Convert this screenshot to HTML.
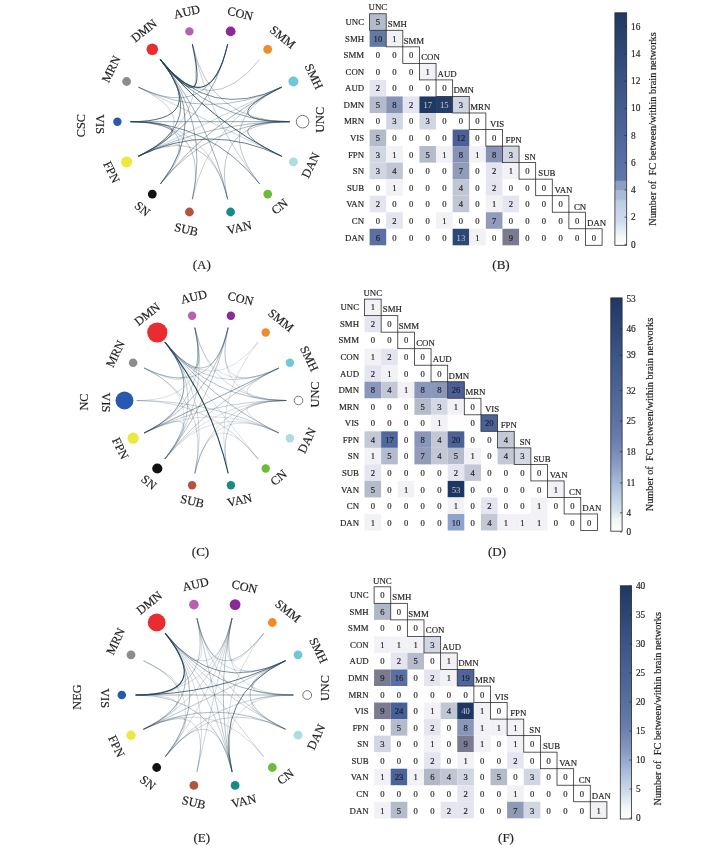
<!DOCTYPE html><html><head><meta charset="utf-8"><title>Figure</title><style>html,body{margin:0;padding:0;background:#fff}svg{display:block}text{font-family:"Liberation Serif",serif;stroke:#231f20;stroke-width:0.18px}</style></head><body>
<svg width="727" height="851" viewBox="0 0 727 851">
<rect width="727" height="851" fill="#fff"/>
<g fill="none" stroke="#28455c" stroke-linecap="round">
<path d="M138.7 156.1Q210.0 121.7 281.3 87.3" stroke-width="0.65" stroke-opacity="0.37"/>
<path d="M138.7 156.1Q210.0 121.7 192.4 44.5" stroke-width="0.65" stroke-opacity="0.37"/>
<path d="M138.7 156.1Q210.0 121.7 138.7 87.3" stroke-width="0.65" stroke-opacity="0.37"/>
<path d="M160.6 183.6Q210.0 121.7 138.7 156.1" stroke-width="0.65" stroke-opacity="0.37"/>
<path d="M192.4 198.9Q210.0 121.7 281.3 87.3" stroke-width="0.65" stroke-opacity="0.37"/>
<path d="M227.6 198.9Q210.0 121.7 130.8 121.7" stroke-width="0.65" stroke-opacity="0.37"/>
<path d="M259.4 183.6Q210.0 121.7 192.4 44.5" stroke-width="0.65" stroke-opacity="0.37"/>
<path d="M281.3 156.1Q210.0 121.7 138.7 87.3" stroke-width="0.65" stroke-opacity="0.37"/>
<path d="M192.4 44.5Q210.0 121.7 289.2 121.7" stroke-width="0.69" stroke-opacity="0.45"/>
<path d="M160.6 59.8Q210.0 121.7 259.4 59.8" stroke-width="0.69" stroke-opacity="0.45"/>
<path d="M160.6 183.6Q210.0 121.7 130.8 121.7" stroke-width="0.69" stroke-opacity="0.45"/>
<path d="M192.4 198.9Q210.0 121.7 130.8 121.7" stroke-width="0.69" stroke-opacity="0.45"/>
<path d="M227.6 198.9Q210.0 121.7 289.2 121.7" stroke-width="0.69" stroke-opacity="0.45"/>
<path d="M227.6 198.9Q210.0 121.7 138.7 156.1" stroke-width="0.69" stroke-opacity="0.45"/>
<path d="M259.4 183.6Q210.0 121.7 281.3 87.3" stroke-width="0.69" stroke-opacity="0.45"/>
<path d="M138.7 87.3Q210.0 121.7 281.3 87.3" stroke-width="0.72" stroke-opacity="0.51"/>
<path d="M138.7 87.3Q210.0 121.7 227.6 44.5" stroke-width="0.72" stroke-opacity="0.51"/>
<path d="M138.7 156.1Q210.0 121.7 289.2 121.7" stroke-width="0.72" stroke-opacity="0.51"/>
<path d="M160.6 183.6Q210.0 121.7 289.2 121.7" stroke-width="0.72" stroke-opacity="0.51"/>
<path d="M160.6 183.6Q210.0 121.7 281.3 87.3" stroke-width="0.76" stroke-opacity="0.57"/>
<path d="M192.4 198.9Q210.0 121.7 160.6 59.8" stroke-width="0.76" stroke-opacity="0.57"/>
<path d="M227.6 198.9Q210.0 121.7 160.6 59.8" stroke-width="0.76" stroke-opacity="0.57"/>
<path d="M160.6 59.8Q210.0 121.7 289.2 121.7" stroke-width="0.79" stroke-opacity="0.61"/>
<path d="M130.8 121.7Q210.0 121.7 289.2 121.7" stroke-width="0.79" stroke-opacity="0.61"/>
<path d="M138.7 156.1Q210.0 121.7 227.6 44.5" stroke-width="0.79" stroke-opacity="0.61"/>
<path d="M281.3 156.1Q210.0 121.7 289.2 121.7" stroke-width="0.82" stroke-opacity="0.66"/>
<path d="M160.6 183.6Q210.0 121.7 160.6 59.8" stroke-width="0.85" stroke-opacity="0.70"/>
<path d="M259.4 183.6Q210.0 121.7 130.8 121.7" stroke-width="0.85" stroke-opacity="0.70"/>
<path d="M160.6 59.8Q210.0 121.7 281.3 87.3" stroke-width="0.87" stroke-opacity="0.73"/>
<path d="M138.7 156.1Q210.0 121.7 160.6 59.8" stroke-width="0.87" stroke-opacity="0.73"/>
<path d="M138.7 156.1Q210.0 121.7 130.8 121.7" stroke-width="0.87" stroke-opacity="0.73"/>
<path d="M281.3 156.1Q210.0 121.7 138.7 156.1" stroke-width="0.90" stroke-opacity="0.77"/>
<path d="M281.3 87.3Q210.0 121.7 289.2 121.7" stroke-width="0.93" stroke-opacity="0.80"/>
<path d="M130.8 121.7Q210.0 121.7 160.6 59.8" stroke-width="0.98" stroke-opacity="0.86"/>
<path d="M281.3 156.1Q210.0 121.7 160.6 59.8" stroke-width="1.00" stroke-opacity="0.89"/>
<path d="M160.6 59.8Q210.0 121.7 192.4 44.5" stroke-width="1.05" stroke-opacity="0.95"/>
<path d="M160.6 59.8Q210.0 121.7 227.6 44.5" stroke-width="1.10" stroke-opacity="1.00"/>
</g>
<circle cx="302.6" cy="121.7" r="6.3" fill="#fff" stroke="#666" stroke-width="0.9"/>
<text x="0" y="0" transform="translate(320.3 119.8) rotate(-90.0)" text-anchor="middle" dominant-baseline="central" font-size="12.3" fill="#231f20">UNC</text>
<circle cx="293.4" cy="81.5" r="5.0" fill="#6ec8d8"/>
<text x="0" y="0" transform="translate(314.0 76.5) rotate(64.3)" text-anchor="middle" dominant-baseline="central" font-size="12.3" fill="#231f20">SMH</text>
<circle cx="267.7" cy="49.3" r="4.4" fill="#f08a2a"/>
<text x="0" y="0" transform="translate(282.7 37.2) rotate(38.6)" text-anchor="middle" dominant-baseline="central" font-size="12.3" fill="#231f20">SMM</text>
<circle cx="230.6" cy="31.4" r="4.9" fill="#8a2a96"/>
<text x="0" y="0" transform="translate(240.2 13.6) rotate(12.9)" text-anchor="middle" dominant-baseline="central" font-size="12.3" fill="#231f20">CON</text>
<circle cx="189.4" cy="31.4" r="4.2" fill="#b560b0"/>
<text x="0" y="0" transform="translate(186.9 11.9) rotate(-12.9)" text-anchor="middle" dominant-baseline="central" font-size="12.3" fill="#231f20">AUD</text>
<circle cx="152.3" cy="49.3" r="5.8" fill="#e82c30"/>
<text x="0" y="0" transform="translate(144.0 30.8) rotate(-38.6)" text-anchor="middle" dominant-baseline="central" font-size="12.3" fill="#231f20">DMN</text>
<circle cx="126.6" cy="81.5" r="4.4" fill="#8c8c8c"/>
<text x="0" y="0" transform="translate(111.2 69.2) rotate(-64.3)" text-anchor="middle" dominant-baseline="central" font-size="12.3" fill="#231f20">MRN</text>
<circle cx="117.4" cy="121.7" r="4.2" fill="#2858b0"/>
<text x="0" y="0" transform="translate(100.0 124.1) rotate(90.0)" text-anchor="middle" dominant-baseline="central" font-size="12.3" fill="#231f20">VIS</text>
<circle cx="126.6" cy="161.9" r="5.5" fill="#ece840"/>
<text x="0" y="0" transform="translate(111.5 172.1) rotate(64.3)" text-anchor="middle" dominant-baseline="central" font-size="12.3" fill="#231f20">FPN</text>
<circle cx="152.3" cy="194.1" r="4.4" fill="#111111"/>
<text x="0" y="0" transform="translate(142.3 208.9) rotate(38.6)" text-anchor="middle" dominant-baseline="central" font-size="12.3" fill="#231f20">SN</text>
<circle cx="189.4" cy="212.0" r="4.4" fill="#b4523c"/>
<text x="0" y="0" transform="translate(186.3 229.4) rotate(12.9)" text-anchor="middle" dominant-baseline="central" font-size="12.3" fill="#231f20">SUB</text>
<circle cx="230.6" cy="212.0" r="4.4" fill="#1a8a88"/>
<text x="0" y="0" transform="translate(239.4 227.7) rotate(-12.9)" text-anchor="middle" dominant-baseline="central" font-size="12.3" fill="#231f20">VAN</text>
<circle cx="267.7" cy="194.1" r="4.4" fill="#6cbc3c"/>
<text x="0" y="0" transform="translate(279.6 206.6) rotate(-38.6)" text-anchor="middle" dominant-baseline="central" font-size="12.3" fill="#231f20">CN</text>
<circle cx="293.4" cy="161.9" r="4.4" fill="#aedce0"/>
<text x="0" y="0" transform="translate(310.8 165.3) rotate(-64.3)" text-anchor="middle" dominant-baseline="central" font-size="12.3" fill="#231f20">DAN</text>
<text transform="translate(81.0 125.6) rotate(-90)" text-anchor="middle" dominant-baseline="central" font-size="12.3" fill="#231f20">CSC</text>
<text x="201.7" y="268.5" text-anchor="middle" font-size="13" fill="#231f20">(A)</text>
<g fill="none" stroke="#28455c" stroke-linecap="round">
<path d="M228.1 328.0Q211.5 400.5 285.9 400.5" stroke-width="0.62" stroke-opacity="0.28"/>
<path d="M194.9 328.0Q211.5 400.5 278.5 368.2" stroke-width="0.62" stroke-opacity="0.28"/>
<path d="M165.1 342.3Q211.5 400.5 257.9 342.3" stroke-width="0.62" stroke-opacity="0.28"/>
<path d="M144.5 368.2Q211.5 400.5 165.1 342.3" stroke-width="0.62" stroke-opacity="0.28"/>
<path d="M137.1 400.5Q211.5 400.5 194.9 328.0" stroke-width="0.62" stroke-opacity="0.28"/>
<path d="M165.1 458.7Q211.5 400.5 285.9 400.5" stroke-width="0.62" stroke-opacity="0.28"/>
<path d="M165.1 458.7Q211.5 400.5 144.5 368.2" stroke-width="0.62" stroke-opacity="0.28"/>
<path d="M228.1 473.0Q211.5 400.5 257.9 342.3" stroke-width="0.62" stroke-opacity="0.28"/>
<path d="M257.9 458.7Q211.5 400.5 165.1 342.3" stroke-width="0.62" stroke-opacity="0.28"/>
<path d="M257.9 458.7Q211.5 400.5 194.9 473.0" stroke-width="0.62" stroke-opacity="0.28"/>
<path d="M278.5 432.8Q211.5 400.5 285.9 400.5" stroke-width="0.62" stroke-opacity="0.28"/>
<path d="M278.5 432.8Q211.5 400.5 144.5 432.8" stroke-width="0.62" stroke-opacity="0.28"/>
<path d="M278.5 432.8Q211.5 400.5 165.1 458.7" stroke-width="0.62" stroke-opacity="0.28"/>
<path d="M278.5 432.8Q211.5 400.5 194.9 473.0" stroke-width="0.62" stroke-opacity="0.28"/>
<path d="M278.5 368.2Q211.5 400.5 285.9 400.5" stroke-width="0.64" stroke-opacity="0.33"/>
<path d="M228.1 328.0Q211.5 400.5 278.5 368.2" stroke-width="0.64" stroke-opacity="0.33"/>
<path d="M194.9 328.0Q211.5 400.5 285.9 400.5" stroke-width="0.64" stroke-opacity="0.33"/>
<path d="M194.9 473.0Q211.5 400.5 285.9 400.5" stroke-width="0.64" stroke-opacity="0.33"/>
<path d="M194.9 473.0Q211.5 400.5 165.1 342.3" stroke-width="0.64" stroke-opacity="0.33"/>
<path d="M257.9 458.7Q211.5 400.5 137.1 400.5" stroke-width="0.64" stroke-opacity="0.33"/>
<path d="M144.5 368.2Q211.5 400.5 194.9 328.0" stroke-width="0.65" stroke-opacity="0.36"/>
<path d="M165.1 342.3Q211.5 400.5 278.5 368.2" stroke-width="0.66" stroke-opacity="0.39"/>
<path d="M144.5 432.8Q211.5 400.5 285.9 400.5" stroke-width="0.66" stroke-opacity="0.39"/>
<path d="M144.5 432.8Q211.5 400.5 194.9 328.0" stroke-width="0.66" stroke-opacity="0.39"/>
<path d="M165.1 458.7Q211.5 400.5 194.9 328.0" stroke-width="0.66" stroke-opacity="0.39"/>
<path d="M165.1 458.7Q211.5 400.5 144.5 432.8" stroke-width="0.66" stroke-opacity="0.39"/>
<path d="M194.9 473.0Q211.5 400.5 144.5 368.2" stroke-width="0.66" stroke-opacity="0.39"/>
<path d="M278.5 432.8Q211.5 400.5 137.1 400.5" stroke-width="0.66" stroke-opacity="0.39"/>
<path d="M144.5 368.2Q211.5 400.5 228.1 328.0" stroke-width="0.68" stroke-opacity="0.42"/>
<path d="M165.1 458.7Q211.5 400.5 278.5 368.2" stroke-width="0.68" stroke-opacity="0.42"/>
<path d="M165.1 458.7Q211.5 400.5 165.1 342.3" stroke-width="0.68" stroke-opacity="0.42"/>
<path d="M228.1 473.0Q211.5 400.5 285.9 400.5" stroke-width="0.68" stroke-opacity="0.42"/>
<path d="M165.1 458.7Q211.5 400.5 228.1 328.0" stroke-width="0.70" stroke-opacity="0.47"/>
<path d="M165.1 342.3Q211.5 400.5 285.9 400.5" stroke-width="0.71" stroke-opacity="0.49"/>
<path d="M165.1 342.3Q211.5 400.5 228.1 328.0" stroke-width="0.71" stroke-opacity="0.49"/>
<path d="M165.1 342.3Q211.5 400.5 194.9 328.0" stroke-width="0.71" stroke-opacity="0.49"/>
<path d="M144.5 432.8Q211.5 400.5 228.1 328.0" stroke-width="0.71" stroke-opacity="0.49"/>
<path d="M278.5 432.8Q211.5 400.5 165.1 342.3" stroke-width="0.73" stroke-opacity="0.52"/>
<path d="M144.5 432.8Q211.5 400.5 278.5 368.2" stroke-width="0.80" stroke-opacity="0.63"/>
<path d="M144.5 432.8Q211.5 400.5 165.1 342.3" stroke-width="0.83" stroke-opacity="0.67"/>
<path d="M228.1 473.0Q211.5 400.5 165.1 342.3" stroke-width="1.10" stroke-opacity="1.00"/>
</g>
<circle cx="298.5" cy="400.5" r="4.3" fill="#fff" stroke="#666" stroke-width="0.9"/>
<text x="0" y="0" transform="translate(315.0 394.5) rotate(-90.0)" text-anchor="middle" dominant-baseline="central" font-size="12.3" fill="#231f20">UNC</text>
<circle cx="289.9" cy="362.8" r="4.2" fill="#6ec8d8"/>
<text x="0" y="0" transform="translate(309.1 358.7) rotate(64.3)" text-anchor="middle" dominant-baseline="central" font-size="12.3" fill="#231f20">SMH</text>
<circle cx="265.7" cy="332.5" r="4.2" fill="#f08a2a"/>
<text x="0" y="0" transform="translate(280.9 320.4) rotate(38.6)" text-anchor="middle" dominant-baseline="central" font-size="12.3" fill="#231f20">SMM</text>
<circle cx="230.9" cy="315.7" r="4.2" fill="#8a2a96"/>
<text x="0" y="0" transform="translate(240.6 298.6) rotate(12.9)" text-anchor="middle" dominant-baseline="central" font-size="12.3" fill="#231f20">CON</text>
<circle cx="192.1" cy="315.7" r="4.2" fill="#b560b0"/>
<text x="0" y="0" transform="translate(193.8 296.9) rotate(-12.9)" text-anchor="middle" dominant-baseline="central" font-size="12.3" fill="#231f20">AUD</text>
<circle cx="157.3" cy="332.5" r="10.1" fill="#e82c30"/>
<text x="0" y="0" transform="translate(147.2 314.2) rotate(-38.6)" text-anchor="middle" dominant-baseline="central" font-size="12.3" fill="#231f20">DMN</text>
<circle cx="133.1" cy="362.8" r="4.3" fill="#8c8c8c"/>
<text x="0" y="0" transform="translate(115.5 353.8) rotate(-64.3)" text-anchor="middle" dominant-baseline="central" font-size="12.3" fill="#231f20">MRN</text>
<circle cx="124.5" cy="400.5" r="9.0" fill="#2858b0"/>
<text x="0" y="0" transform="translate(105.9 402.5) rotate(90.0)" text-anchor="middle" dominant-baseline="central" font-size="12.3" fill="#231f20">VIS</text>
<circle cx="133.1" cy="438.2" r="5.6" fill="#ece840"/>
<text x="0" y="0" transform="translate(120.3 448.4) rotate(64.3)" text-anchor="middle" dominant-baseline="central" font-size="12.3" fill="#231f20">FPN</text>
<circle cx="157.3" cy="468.5" r="5.1" fill="#111111"/>
<text x="0" y="0" transform="translate(148.9 482.4) rotate(38.6)" text-anchor="middle" dominant-baseline="central" font-size="12.3" fill="#231f20">SN</text>
<circle cx="192.1" cy="485.3" r="4.2" fill="#b4523c"/>
<text x="0" y="0" transform="translate(192.3 501.3) rotate(12.9)" text-anchor="middle" dominant-baseline="central" font-size="12.3" fill="#231f20">SUB</text>
<circle cx="230.9" cy="485.3" r="4.2" fill="#1a8a88"/>
<text x="0" y="0" transform="translate(239.6 500.3) rotate(-12.9)" text-anchor="middle" dominant-baseline="central" font-size="12.3" fill="#231f20">VAN</text>
<circle cx="265.7" cy="468.5" r="4.2" fill="#6cbc3c"/>
<text x="0" y="0" transform="translate(278.6 477.7) rotate(-38.6)" text-anchor="middle" dominant-baseline="central" font-size="12.3" fill="#231f20">CN</text>
<circle cx="289.9" cy="438.2" r="4.2" fill="#aedce0"/>
<text x="0" y="0" transform="translate(307.0 440.4) rotate(-64.3)" text-anchor="middle" dominant-baseline="central" font-size="12.3" fill="#231f20">DAN</text>
<text transform="translate(84.4 402.0) rotate(-90)" text-anchor="middle" dominant-baseline="central" font-size="12.3" fill="#231f20">NC</text>
<text x="200.5" y="556" text-anchor="middle" font-size="13" fill="#231f20">(C)</text>
<g fill="none" stroke="#28455c" stroke-linecap="round">
<path d="M232.0 618.5Q214.5 695.0 293.0 695.0" stroke-width="0.63" stroke-opacity="0.30"/>
<path d="M232.0 618.5Q214.5 695.0 285.2 660.9" stroke-width="0.63" stroke-opacity="0.30"/>
<path d="M232.0 618.5Q214.5 695.0 263.5 633.6" stroke-width="0.63" stroke-opacity="0.30"/>
<path d="M165.5 633.6Q214.5 695.0 197.0 618.5" stroke-width="0.63" stroke-opacity="0.30"/>
<path d="M136.0 695.0Q214.5 695.0 232.0 618.5" stroke-width="0.63" stroke-opacity="0.30"/>
<path d="M136.0 695.0Q214.5 695.0 143.8 660.9" stroke-width="0.63" stroke-opacity="0.30"/>
<path d="M143.8 729.1Q214.5 695.0 143.8 660.9" stroke-width="0.63" stroke-opacity="0.30"/>
<path d="M143.8 729.1Q214.5 695.0 136.0 695.0" stroke-width="0.63" stroke-opacity="0.30"/>
<path d="M165.5 756.4Q214.5 695.0 232.0 618.5" stroke-width="0.63" stroke-opacity="0.30"/>
<path d="M165.5 756.4Q214.5 695.0 143.8 660.9" stroke-width="0.63" stroke-opacity="0.30"/>
<path d="M165.5 756.4Q214.5 695.0 143.8 729.1" stroke-width="0.63" stroke-opacity="0.30"/>
<path d="M197.0 771.5Q214.5 695.0 165.5 633.6" stroke-width="0.63" stroke-opacity="0.30"/>
<path d="M232.0 771.5Q214.5 695.0 293.0 695.0" stroke-width="0.63" stroke-opacity="0.30"/>
<path d="M232.0 771.5Q214.5 695.0 263.5 633.6" stroke-width="0.63" stroke-opacity="0.30"/>
<path d="M263.5 756.4Q214.5 695.0 143.8 729.1" stroke-width="0.63" stroke-opacity="0.30"/>
<path d="M285.2 729.1Q214.5 695.0 293.0 695.0" stroke-width="0.63" stroke-opacity="0.30"/>
<path d="M197.0 618.5Q214.5 695.0 285.2 660.9" stroke-width="0.65" stroke-opacity="0.35"/>
<path d="M165.5 633.6Q214.5 695.0 232.0 618.5" stroke-width="0.65" stroke-opacity="0.35"/>
<path d="M143.8 729.1Q214.5 695.0 232.0 618.5" stroke-width="0.65" stroke-opacity="0.35"/>
<path d="M197.0 771.5Q214.5 695.0 232.0 618.5" stroke-width="0.65" stroke-opacity="0.35"/>
<path d="M197.0 771.5Q214.5 695.0 143.8 729.1" stroke-width="0.65" stroke-opacity="0.35"/>
<path d="M263.5 756.4Q214.5 695.0 165.5 633.6" stroke-width="0.65" stroke-opacity="0.35"/>
<path d="M285.2 729.1Q214.5 695.0 197.0 618.5" stroke-width="0.65" stroke-opacity="0.35"/>
<path d="M285.2 729.1Q214.5 695.0 165.5 633.6" stroke-width="0.65" stroke-opacity="0.35"/>
<path d="M165.5 756.4Q214.5 695.0 293.0 695.0" stroke-width="0.66" stroke-opacity="0.39"/>
<path d="M232.0 771.5Q214.5 695.0 165.5 633.6" stroke-width="0.66" stroke-opacity="0.39"/>
<path d="M232.0 771.5Q214.5 695.0 165.5 756.4" stroke-width="0.66" stroke-opacity="0.39"/>
<path d="M285.2 729.1Q214.5 695.0 165.5 756.4" stroke-width="0.66" stroke-opacity="0.39"/>
<path d="M136.0 695.0Q214.5 695.0 197.0 618.5" stroke-width="0.68" stroke-opacity="0.43"/>
<path d="M232.0 771.5Q214.5 695.0 197.0 618.5" stroke-width="0.68" stroke-opacity="0.43"/>
<path d="M197.0 618.5Q214.5 695.0 263.5 633.6" stroke-width="0.69" stroke-opacity="0.46"/>
<path d="M143.8 729.1Q214.5 695.0 285.2 660.9" stroke-width="0.69" stroke-opacity="0.46"/>
<path d="M232.0 771.5Q214.5 695.0 136.0 695.0" stroke-width="0.69" stroke-opacity="0.46"/>
<path d="M285.2 729.1Q214.5 695.0 285.2 660.9" stroke-width="0.69" stroke-opacity="0.46"/>
<path d="M285.2 660.9Q214.5 695.0 293.0 695.0" stroke-width="0.71" stroke-opacity="0.49"/>
<path d="M232.0 771.5Q214.5 695.0 232.0 618.5" stroke-width="0.71" stroke-opacity="0.49"/>
<path d="M285.2 729.1Q214.5 695.0 143.8 729.1" stroke-width="0.72" stroke-opacity="0.51"/>
<path d="M143.8 729.1Q214.5 695.0 165.5 633.6" stroke-width="0.74" stroke-opacity="0.54"/>
<path d="M165.5 633.6Q214.5 695.0 293.0 695.0" stroke-width="0.75" stroke-opacity="0.56"/>
<path d="M136.0 695.0Q214.5 695.0 293.0 695.0" stroke-width="0.75" stroke-opacity="0.56"/>
<path d="M165.5 756.4Q214.5 695.0 165.5 633.6" stroke-width="0.75" stroke-opacity="0.56"/>
<path d="M165.5 633.6Q214.5 695.0 285.2 660.9" stroke-width="0.84" stroke-opacity="0.69"/>
<path d="M232.0 771.5Q214.5 695.0 285.2 660.9" stroke-width="0.92" stroke-opacity="0.79"/>
<path d="M136.0 695.0Q214.5 695.0 285.2 660.9" stroke-width="0.93" stroke-opacity="0.81"/>
<path d="M136.0 695.0Q214.5 695.0 165.5 633.6" stroke-width="1.10" stroke-opacity="1.00"/>
</g>
<circle cx="307.2" cy="695.0" r="4.4" fill="#fff" stroke="#666" stroke-width="0.9"/>
<text x="0" y="0" transform="translate(324.6 688.1) rotate(-90.0)" text-anchor="middle" dominant-baseline="central" font-size="12.3" fill="#231f20">UNC</text>
<circle cx="298.0" cy="654.8" r="4.4" fill="#6ec8d8"/>
<text x="0" y="0" transform="translate(318.5 650.4) rotate(64.3)" text-anchor="middle" dominant-baseline="central" font-size="12.3" fill="#231f20">SMH</text>
<circle cx="272.3" cy="622.5" r="4.4" fill="#f08a2a"/>
<text x="0" y="0" transform="translate(287.9 611.0) rotate(38.6)" text-anchor="middle" dominant-baseline="central" font-size="12.3" fill="#231f20">SMM</text>
<circle cx="235.1" cy="604.6" r="5.4" fill="#8a2a96"/>
<text x="0" y="0" transform="translate(244.5 586.8) rotate(12.9)" text-anchor="middle" dominant-baseline="central" font-size="12.3" fill="#231f20">CON</text>
<circle cx="193.9" cy="604.6" r="4.8" fill="#b560b0"/>
<text x="0" y="0" transform="translate(195.5 584.4) rotate(-12.9)" text-anchor="middle" dominant-baseline="central" font-size="12.3" fill="#231f20">AUD</text>
<circle cx="156.7" cy="622.5" r="8.9" fill="#e82c30"/>
<text x="0" y="0" transform="translate(149.3 602.9) rotate(-38.6)" text-anchor="middle" dominant-baseline="central" font-size="12.3" fill="#231f20">DMN</text>
<circle cx="131.0" cy="654.8" r="4.4" fill="#8c8c8c"/>
<text x="0" y="0" transform="translate(115.7 641.3) rotate(-64.3)" text-anchor="middle" dominant-baseline="central" font-size="12.3" fill="#231f20">MRN</text>
<circle cx="121.8" cy="695.0" r="4.3" fill="#2858b0"/>
<text x="0" y="0" transform="translate(104.7 698.1) rotate(90.0)" text-anchor="middle" dominant-baseline="central" font-size="12.3" fill="#231f20">VIS</text>
<circle cx="131.0" cy="735.2" r="4.7" fill="#ece840"/>
<text x="0" y="0" transform="translate(116.4 746.3) rotate(64.3)" text-anchor="middle" dominant-baseline="central" font-size="12.3" fill="#231f20">FPN</text>
<circle cx="156.7" cy="767.5" r="4.4" fill="#111111"/>
<text x="0" y="0" transform="translate(147.7 782.7) rotate(38.6)" text-anchor="middle" dominant-baseline="central" font-size="12.3" fill="#231f20">SN</text>
<circle cx="193.9" cy="785.4" r="4.4" fill="#b4523c"/>
<text x="0" y="0" transform="translate(193.8 802.5) rotate(12.9)" text-anchor="middle" dominant-baseline="central" font-size="12.3" fill="#231f20">SUB</text>
<circle cx="235.1" cy="785.4" r="4.4" fill="#1a8a88"/>
<text x="0" y="0" transform="translate(243.8 801.2) rotate(-12.9)" text-anchor="middle" dominant-baseline="central" font-size="12.3" fill="#231f20">VAN</text>
<circle cx="272.3" cy="767.5" r="4.4" fill="#6cbc3c"/>
<text x="0" y="0" transform="translate(285.4 776.9) rotate(-38.6)" text-anchor="middle" dominant-baseline="central" font-size="12.3" fill="#231f20">CN</text>
<circle cx="298.0" cy="735.2" r="4.4" fill="#aedce0"/>
<text x="0" y="0" transform="translate(316.2 737.1) rotate(-64.3)" text-anchor="middle" dominant-baseline="central" font-size="12.3" fill="#231f20">DAN</text>
<text transform="translate(76.9 697) rotate(-90)" text-anchor="middle" dominant-baseline="central" font-size="12.3" fill="#231f20">NEG</text>
<text x="201.7" y="841.6" text-anchor="middle" font-size="13" fill="#231f20">(E)</text>
<rect x="369.60" y="13.75" width="16.61" height="16.54" fill="#b4bbca"/>
<rect x="369.60" y="30.29" width="16.61" height="16.54" fill="#6478a4"/>
<rect x="386.21" y="30.29" width="16.61" height="16.54" fill="#f2f2f6"/>
<rect x="419.42" y="63.37" width="16.61" height="16.54" fill="#f2f2f6"/>
<rect x="369.60" y="79.91" width="16.61" height="16.54" fill="#e5e5f2"/>
<rect x="369.60" y="96.45" width="16.61" height="16.54" fill="#b4bbca"/>
<rect x="386.21" y="96.45" width="16.61" height="16.54" fill="#8693b6"/>
<rect x="402.81" y="96.45" width="16.61" height="16.54" fill="#e5e5f2"/>
<rect x="419.42" y="96.45" width="16.61" height="16.54" fill="#1f3864"/>
<rect x="436.03" y="96.45" width="16.61" height="16.54" fill="#233d6c"/>
<rect x="452.64" y="96.45" width="16.61" height="16.54" fill="#d1d6e3"/>
<rect x="386.21" y="112.99" width="16.61" height="16.54" fill="#d1d6e3"/>
<rect x="419.42" y="112.99" width="16.61" height="16.54" fill="#d1d6e3"/>
<rect x="369.60" y="129.53" width="16.61" height="16.54" fill="#b4bbca"/>
<rect x="452.64" y="129.53" width="16.61" height="16.54" fill="#4b6098"/>
<rect x="369.60" y="146.06" width="16.61" height="16.54" fill="#d1d6e3"/>
<rect x="386.21" y="146.06" width="16.61" height="16.54" fill="#f2f2f6"/>
<rect x="419.42" y="146.06" width="16.61" height="16.54" fill="#b4bbca"/>
<rect x="436.03" y="146.06" width="16.61" height="16.54" fill="#f2f2f6"/>
<rect x="452.64" y="146.06" width="16.61" height="16.54" fill="#8693b6"/>
<rect x="469.24" y="146.06" width="16.61" height="16.54" fill="#f2f2f6"/>
<rect x="485.85" y="146.06" width="16.61" height="16.54" fill="#8693b6"/>
<rect x="502.46" y="146.06" width="16.61" height="16.54" fill="#d1d6e3"/>
<rect x="369.60" y="162.60" width="16.61" height="16.54" fill="#d1d6e3"/>
<rect x="386.21" y="162.60" width="16.61" height="16.54" fill="#c1c6d5"/>
<rect x="452.64" y="162.60" width="16.61" height="16.54" fill="#909cb9"/>
<rect x="485.85" y="162.60" width="16.61" height="16.54" fill="#e5e5f2"/>
<rect x="502.46" y="162.60" width="16.61" height="16.54" fill="#f2f2f6"/>
<rect x="386.21" y="179.14" width="16.61" height="16.54" fill="#f2f2f6"/>
<rect x="452.64" y="179.14" width="16.61" height="16.54" fill="#c1c6d5"/>
<rect x="485.85" y="179.14" width="16.61" height="16.54" fill="#e5e5f2"/>
<rect x="369.60" y="195.68" width="16.61" height="16.54" fill="#e5e5f2"/>
<rect x="452.64" y="195.68" width="16.61" height="16.54" fill="#c1c6d5"/>
<rect x="485.85" y="195.68" width="16.61" height="16.54" fill="#f2f2f6"/>
<rect x="502.46" y="195.68" width="16.61" height="16.54" fill="#e5e5f2"/>
<rect x="386.21" y="212.22" width="16.61" height="16.54" fill="#e5e5f2"/>
<rect x="436.03" y="212.22" width="16.61" height="16.54" fill="#f2f2f6"/>
<rect x="485.85" y="212.22" width="16.61" height="16.54" fill="#909cb9"/>
<rect x="369.60" y="228.76" width="16.61" height="16.54" fill="#5a70a4"/>
<rect x="452.64" y="228.76" width="16.61" height="16.54" fill="#2c4878"/>
<rect x="469.24" y="228.76" width="16.61" height="16.54" fill="#f2f2f6"/>
<rect x="502.46" y="228.76" width="16.61" height="16.54" fill="#7a7a90"/>
<rect x="369.60" y="13.75" width="16.61" height="16.54" fill="none" stroke="#2e2e2e" stroke-width="0.8"/>
<rect x="386.21" y="30.29" width="16.61" height="16.54" fill="none" stroke="#2e2e2e" stroke-width="0.8"/>
<rect x="402.81" y="46.83" width="16.61" height="16.54" fill="none" stroke="#2e2e2e" stroke-width="0.8"/>
<rect x="419.42" y="63.37" width="16.61" height="16.54" fill="none" stroke="#2e2e2e" stroke-width="0.8"/>
<rect x="436.03" y="79.91" width="16.61" height="16.54" fill="none" stroke="#2e2e2e" stroke-width="0.8"/>
<rect x="452.64" y="96.45" width="16.61" height="16.54" fill="none" stroke="#2e2e2e" stroke-width="0.8"/>
<rect x="469.24" y="112.99" width="16.61" height="16.54" fill="none" stroke="#2e2e2e" stroke-width="0.8"/>
<rect x="485.85" y="129.53" width="16.61" height="16.54" fill="none" stroke="#2e2e2e" stroke-width="0.8"/>
<rect x="502.46" y="146.06" width="16.61" height="16.54" fill="none" stroke="#2e2e2e" stroke-width="0.8"/>
<rect x="519.06" y="162.60" width="16.61" height="16.54" fill="none" stroke="#2e2e2e" stroke-width="0.8"/>
<rect x="535.67" y="179.14" width="16.61" height="16.54" fill="none" stroke="#2e2e2e" stroke-width="0.8"/>
<rect x="552.28" y="195.68" width="16.61" height="16.54" fill="none" stroke="#2e2e2e" stroke-width="0.8"/>
<rect x="568.89" y="212.22" width="16.61" height="16.54" fill="none" stroke="#2e2e2e" stroke-width="0.8"/>
<rect x="585.49" y="228.76" width="16.61" height="16.54" fill="none" stroke="#2e2e2e" stroke-width="0.8"/>
<g font-size="8.6" text-anchor="middle" fill="#231f20" stroke-width="0.3">
<text x="377.9" y="24.9">5</text>
<text x="377.9" y="41.5">10</text>
<text x="394.5" y="41.5">1</text>
<text x="377.9" y="58.1">0</text>
<text x="394.5" y="58.1">0</text>
<text x="411.1" y="58.1">0</text>
<text x="377.9" y="74.7">0</text>
<text x="394.5" y="74.7">0</text>
<text x="411.1" y="74.7">0</text>
<text x="427.7" y="74.7">1</text>
<text x="377.9" y="91.3">2</text>
<text x="394.5" y="91.3">0</text>
<text x="411.1" y="91.3">0</text>
<text x="427.7" y="91.3">0</text>
<text x="444.3" y="91.3">0</text>
<text x="377.9" y="107.8">5</text>
<text x="394.5" y="107.8">8</text>
<text x="411.1" y="107.8">2</text>
<text x="427.7" y="107.8" fill="#fff" stroke="#fff">17</text>
<text x="444.3" y="107.8" fill="#fff" stroke="#fff">15</text>
<text x="460.9" y="107.8">3</text>
<text x="377.9" y="124.4">0</text>
<text x="394.5" y="124.4">3</text>
<text x="411.1" y="124.4">0</text>
<text x="427.7" y="124.4">3</text>
<text x="444.3" y="124.4">0</text>
<text x="460.9" y="124.4">0</text>
<text x="477.5" y="124.4">0</text>
<text x="377.9" y="141.0">5</text>
<text x="394.5" y="141.0">0</text>
<text x="411.1" y="141.0">0</text>
<text x="427.7" y="141.0">0</text>
<text x="444.3" y="141.0">0</text>
<text x="460.9" y="141.0">12</text>
<text x="477.5" y="141.0">0</text>
<text x="494.2" y="141.0">0</text>
<text x="377.9" y="157.6">3</text>
<text x="394.5" y="157.6">1</text>
<text x="411.1" y="157.6">0</text>
<text x="427.7" y="157.6">5</text>
<text x="444.3" y="157.6">1</text>
<text x="460.9" y="157.6">8</text>
<text x="477.5" y="157.6">1</text>
<text x="494.2" y="157.6">8</text>
<text x="510.8" y="157.6">3</text>
<text x="377.9" y="174.2">3</text>
<text x="394.5" y="174.2">4</text>
<text x="411.1" y="174.2">0</text>
<text x="427.7" y="174.2">0</text>
<text x="444.3" y="174.2">0</text>
<text x="460.9" y="174.2">7</text>
<text x="477.5" y="174.2">0</text>
<text x="494.2" y="174.2">2</text>
<text x="510.8" y="174.2">1</text>
<text x="527.4" y="174.2">0</text>
<text x="377.9" y="190.8">0</text>
<text x="394.5" y="190.8">1</text>
<text x="411.1" y="190.8">0</text>
<text x="427.7" y="190.8">0</text>
<text x="444.3" y="190.8">0</text>
<text x="460.9" y="190.8">4</text>
<text x="477.5" y="190.8">0</text>
<text x="494.2" y="190.8">2</text>
<text x="510.8" y="190.8">0</text>
<text x="527.4" y="190.8">0</text>
<text x="544.0" y="190.8">0</text>
<text x="377.9" y="207.4">2</text>
<text x="394.5" y="207.4">0</text>
<text x="411.1" y="207.4">0</text>
<text x="427.7" y="207.4">0</text>
<text x="444.3" y="207.4">0</text>
<text x="460.9" y="207.4">4</text>
<text x="477.5" y="207.4">0</text>
<text x="494.2" y="207.4">1</text>
<text x="510.8" y="207.4">2</text>
<text x="527.4" y="207.4">0</text>
<text x="544.0" y="207.4">0</text>
<text x="560.6" y="207.4">0</text>
<text x="377.9" y="223.9">0</text>
<text x="394.5" y="223.9">2</text>
<text x="411.1" y="223.9">0</text>
<text x="427.7" y="223.9">0</text>
<text x="444.3" y="223.9">1</text>
<text x="460.9" y="223.9">0</text>
<text x="477.5" y="223.9">0</text>
<text x="494.2" y="223.9">7</text>
<text x="510.8" y="223.9">0</text>
<text x="527.4" y="223.9">0</text>
<text x="544.0" y="223.9">0</text>
<text x="560.6" y="223.9">0</text>
<text x="577.2" y="223.9">0</text>
<text x="377.9" y="240.5">6</text>
<text x="394.5" y="240.5">0</text>
<text x="411.1" y="240.5">0</text>
<text x="427.7" y="240.5">0</text>
<text x="444.3" y="240.5">0</text>
<text x="460.9" y="240.5" fill="#fff" stroke="#fff">13</text>
<text x="477.5" y="240.5">1</text>
<text x="494.2" y="240.5">0</text>
<text x="510.8" y="240.5">9</text>
<text x="527.4" y="240.5">0</text>
<text x="544.0" y="240.5">0</text>
<text x="560.6" y="240.5">0</text>
<text x="577.2" y="240.5">0</text>
<text x="593.8" y="240.5">0</text>
</g>
<g font-size="8.8" fill="#231f20" stroke-width="0.28">
<text x="364.1" y="24.9" text-anchor="end">UNC</text>
<text x="377.9" y="10.4" text-anchor="middle">UNC</text>
<text x="364.1" y="41.5" text-anchor="end">SMH</text>
<text x="397.3" y="27.0" text-anchor="middle">SMH</text>
<text x="364.1" y="58.1" text-anchor="end">SMM</text>
<text x="413.9" y="43.6" text-anchor="middle">SMM</text>
<text x="364.1" y="74.7" text-anchor="end">CON</text>
<text x="430.5" y="60.2" text-anchor="middle">CON</text>
<text x="364.1" y="91.3" text-anchor="end">AUD</text>
<text x="447.1" y="76.8" text-anchor="middle">AUD</text>
<text x="364.1" y="107.8" text-anchor="end">DMN</text>
<text x="463.7" y="93.4" text-anchor="middle">DMN</text>
<text x="364.1" y="124.4" text-anchor="end">MRN</text>
<text x="480.3" y="110.0" text-anchor="middle">MRN</text>
<text x="364.1" y="141.0" text-anchor="end">VIS</text>
<text x="497.0" y="126.5" text-anchor="middle">VIS</text>
<text x="364.1" y="157.6" text-anchor="end">FPN</text>
<text x="513.6" y="143.1" text-anchor="middle">FPN</text>
<text x="364.1" y="174.2" text-anchor="end">SN</text>
<text x="530.2" y="159.7" text-anchor="middle">SN</text>
<text x="364.1" y="190.8" text-anchor="end">SUB</text>
<text x="546.8" y="176.3" text-anchor="middle">SUB</text>
<text x="364.1" y="207.4" text-anchor="end">VAN</text>
<text x="563.4" y="192.9" text-anchor="middle">VAN</text>
<text x="364.1" y="223.9" text-anchor="end">CN</text>
<text x="580.0" y="209.5" text-anchor="middle">CN</text>
<text x="364.1" y="240.5" text-anchor="end">DAN</text>
<text x="596.6" y="226.1" text-anchor="middle">DAN</text>
</g>
<text x="501" y="269" text-anchor="middle" font-size="13" fill="#231f20">(B)</text>
<rect x="364.50" y="299.10" width="16.64" height="16.53" fill="#f2f2f6"/>
<rect x="364.50" y="315.63" width="16.64" height="16.53" fill="#e5e5f2"/>
<rect x="364.50" y="348.69" width="16.64" height="16.53" fill="#f2f2f6"/>
<rect x="381.14" y="348.69" width="16.64" height="16.53" fill="#e5e5f2"/>
<rect x="364.50" y="365.21" width="16.64" height="16.53" fill="#e5e5f2"/>
<rect x="381.14" y="365.21" width="16.64" height="16.53" fill="#f2f2f6"/>
<rect x="364.50" y="381.74" width="16.64" height="16.53" fill="#8997ba"/>
<rect x="381.14" y="381.74" width="16.64" height="16.53" fill="#c3c8d6"/>
<rect x="397.77" y="381.74" width="16.64" height="16.53" fill="#f2f2f6"/>
<rect x="414.41" y="381.74" width="16.64" height="16.53" fill="#8997ba"/>
<rect x="431.04" y="381.74" width="16.64" height="16.53" fill="#8997ba"/>
<rect x="447.68" y="381.74" width="16.64" height="16.53" fill="#4a6096"/>
<rect x="414.41" y="398.27" width="16.64" height="16.53" fill="#b4bccc"/>
<rect x="431.04" y="398.27" width="16.64" height="16.53" fill="#d3d8e4"/>
<rect x="447.68" y="398.27" width="16.64" height="16.53" fill="#f2f2f6"/>
<rect x="431.04" y="414.80" width="16.64" height="16.53" fill="#f2f2f6"/>
<rect x="480.95" y="414.80" width="16.64" height="16.53" fill="#4a6298"/>
<rect x="364.50" y="431.33" width="16.64" height="16.53" fill="#c3c8d6"/>
<rect x="381.14" y="431.33" width="16.64" height="16.53" fill="#5068a0"/>
<rect x="414.41" y="431.33" width="16.64" height="16.53" fill="#8997ba"/>
<rect x="431.04" y="431.33" width="16.64" height="16.53" fill="#c3c8d6"/>
<rect x="447.68" y="431.33" width="16.64" height="16.53" fill="#4a6298"/>
<rect x="497.59" y="431.33" width="16.64" height="16.53" fill="#c3c8d6"/>
<rect x="364.50" y="447.86" width="16.64" height="16.53" fill="#f2f2f6"/>
<rect x="381.14" y="447.86" width="16.64" height="16.53" fill="#b4bccc"/>
<rect x="414.41" y="447.86" width="16.64" height="16.53" fill="#909cb9"/>
<rect x="431.04" y="447.86" width="16.64" height="16.53" fill="#c3c8d6"/>
<rect x="447.68" y="447.86" width="16.64" height="16.53" fill="#b4bccc"/>
<rect x="464.31" y="447.86" width="16.64" height="16.53" fill="#f2f2f6"/>
<rect x="497.59" y="447.86" width="16.64" height="16.53" fill="#c3c8d6"/>
<rect x="514.22" y="447.86" width="16.64" height="16.53" fill="#d3d8e4"/>
<rect x="364.50" y="464.39" width="16.64" height="16.53" fill="#e5e5f2"/>
<rect x="447.68" y="464.39" width="16.64" height="16.53" fill="#e5e5f2"/>
<rect x="464.31" y="464.39" width="16.64" height="16.53" fill="#c3c8d6"/>
<rect x="364.50" y="480.91" width="16.64" height="16.53" fill="#b4bccc"/>
<rect x="397.77" y="480.91" width="16.64" height="16.53" fill="#f2f2f6"/>
<rect x="447.68" y="480.91" width="16.64" height="16.53" fill="#1d3765"/>
<rect x="547.49" y="480.91" width="16.64" height="16.53" fill="#f2f2f6"/>
<rect x="447.68" y="497.44" width="16.64" height="16.53" fill="#f2f2f6"/>
<rect x="480.95" y="497.44" width="16.64" height="16.53" fill="#e5e5f2"/>
<rect x="530.86" y="497.44" width="16.64" height="16.53" fill="#f2f2f6"/>
<rect x="364.50" y="513.97" width="16.64" height="16.53" fill="#f2f2f6"/>
<rect x="447.68" y="513.97" width="16.64" height="16.53" fill="#8fa4cc"/>
<rect x="480.95" y="513.97" width="16.64" height="16.53" fill="#c3c8d6"/>
<rect x="497.59" y="513.97" width="16.64" height="16.53" fill="#f2f2f6"/>
<rect x="514.22" y="513.97" width="16.64" height="16.53" fill="#f2f2f6"/>
<rect x="530.86" y="513.97" width="16.64" height="16.53" fill="#f2f2f6"/>
<rect x="364.50" y="299.10" width="16.64" height="16.53" fill="none" stroke="#2e2e2e" stroke-width="0.8"/>
<rect x="381.14" y="315.63" width="16.64" height="16.53" fill="none" stroke="#2e2e2e" stroke-width="0.8"/>
<rect x="397.77" y="332.16" width="16.64" height="16.53" fill="none" stroke="#2e2e2e" stroke-width="0.8"/>
<rect x="414.41" y="348.69" width="16.64" height="16.53" fill="none" stroke="#2e2e2e" stroke-width="0.8"/>
<rect x="431.04" y="365.21" width="16.64" height="16.53" fill="none" stroke="#2e2e2e" stroke-width="0.8"/>
<rect x="447.68" y="381.74" width="16.64" height="16.53" fill="none" stroke="#2e2e2e" stroke-width="0.8"/>
<rect x="464.31" y="398.27" width="16.64" height="16.53" fill="none" stroke="#2e2e2e" stroke-width="0.8"/>
<rect x="480.95" y="414.80" width="16.64" height="16.53" fill="none" stroke="#2e2e2e" stroke-width="0.8"/>
<rect x="497.59" y="431.33" width="16.64" height="16.53" fill="none" stroke="#2e2e2e" stroke-width="0.8"/>
<rect x="514.22" y="447.86" width="16.64" height="16.53" fill="none" stroke="#2e2e2e" stroke-width="0.8"/>
<rect x="530.86" y="464.39" width="16.64" height="16.53" fill="none" stroke="#2e2e2e" stroke-width="0.8"/>
<rect x="547.49" y="480.91" width="16.64" height="16.53" fill="none" stroke="#2e2e2e" stroke-width="0.8"/>
<rect x="564.13" y="497.44" width="16.64" height="16.53" fill="none" stroke="#2e2e2e" stroke-width="0.8"/>
<rect x="580.76" y="513.97" width="16.64" height="16.53" fill="none" stroke="#2e2e2e" stroke-width="0.8"/>
<g font-size="8.6" text-anchor="middle" fill="#231f20" stroke-width="0.3">
<text x="372.8" y="310.3">1</text>
<text x="372.8" y="326.8">2</text>
<text x="389.5" y="326.8">0</text>
<text x="372.8" y="343.4">0</text>
<text x="389.5" y="343.4">0</text>
<text x="406.1" y="343.4">0</text>
<text x="372.8" y="360.0">1</text>
<text x="389.5" y="360.0">2</text>
<text x="406.1" y="360.0">0</text>
<text x="422.7" y="360.0">0</text>
<text x="372.8" y="376.6">2</text>
<text x="389.5" y="376.6">1</text>
<text x="406.1" y="376.6">0</text>
<text x="422.7" y="376.6">0</text>
<text x="439.4" y="376.6">0</text>
<text x="372.8" y="393.1">8</text>
<text x="389.5" y="393.1">4</text>
<text x="406.1" y="393.1">1</text>
<text x="422.7" y="393.1">8</text>
<text x="439.4" y="393.1">8</text>
<text x="456.0" y="393.1">26</text>
<text x="372.8" y="409.7">0</text>
<text x="389.5" y="409.7">0</text>
<text x="406.1" y="409.7">0</text>
<text x="422.7" y="409.7">5</text>
<text x="439.4" y="409.7">3</text>
<text x="456.0" y="409.7">1</text>
<text x="472.6" y="409.7">0</text>
<text x="372.8" y="426.3">0</text>
<text x="389.5" y="426.3">0</text>
<text x="406.1" y="426.3">0</text>
<text x="422.7" y="426.3">0</text>
<text x="439.4" y="426.3">1</text>
<text x="472.6" y="426.3">0</text>
<text x="489.3" y="426.3">20</text>
<text x="372.8" y="442.9">4</text>
<text x="389.5" y="442.9">17</text>
<text x="406.1" y="442.9">0</text>
<text x="422.7" y="442.9">8</text>
<text x="439.4" y="442.9">4</text>
<text x="456.0" y="442.9">20</text>
<text x="472.6" y="442.9">0</text>
<text x="489.3" y="442.9">0</text>
<text x="505.9" y="442.9">4</text>
<text x="372.8" y="459.4">1</text>
<text x="389.5" y="459.4">5</text>
<text x="406.1" y="459.4">0</text>
<text x="422.7" y="459.4">7</text>
<text x="439.4" y="459.4">4</text>
<text x="456.0" y="459.4">5</text>
<text x="472.6" y="459.4">1</text>
<text x="489.3" y="459.4">0</text>
<text x="505.9" y="459.4">4</text>
<text x="522.5" y="459.4">3</text>
<text x="372.8" y="476.0">2</text>
<text x="389.5" y="476.0">0</text>
<text x="406.1" y="476.0">0</text>
<text x="422.7" y="476.0">0</text>
<text x="439.4" y="476.0">0</text>
<text x="456.0" y="476.0">2</text>
<text x="472.6" y="476.0">4</text>
<text x="489.3" y="476.0">0</text>
<text x="505.9" y="476.0">0</text>
<text x="522.5" y="476.0">0</text>
<text x="539.2" y="476.0">0</text>
<text x="372.8" y="492.6">5</text>
<text x="389.5" y="492.6">0</text>
<text x="406.1" y="492.6">1</text>
<text x="422.7" y="492.6">0</text>
<text x="439.4" y="492.6">0</text>
<text x="456.0" y="492.6" fill="#fff" stroke="#fff">53</text>
<text x="472.6" y="492.6">0</text>
<text x="489.3" y="492.6">0</text>
<text x="505.9" y="492.6">0</text>
<text x="522.5" y="492.6">0</text>
<text x="539.2" y="492.6">0</text>
<text x="555.8" y="492.6">1</text>
<text x="372.8" y="509.2">0</text>
<text x="389.5" y="509.2">0</text>
<text x="406.1" y="509.2">0</text>
<text x="422.7" y="509.2">0</text>
<text x="439.4" y="509.2">0</text>
<text x="456.0" y="509.2">1</text>
<text x="472.6" y="509.2">0</text>
<text x="489.3" y="509.2">2</text>
<text x="505.9" y="509.2">0</text>
<text x="522.5" y="509.2">0</text>
<text x="539.2" y="509.2">1</text>
<text x="555.8" y="509.2">0</text>
<text x="572.4" y="509.2">0</text>
<text x="372.8" y="525.7">1</text>
<text x="389.5" y="525.7">0</text>
<text x="406.1" y="525.7">0</text>
<text x="422.7" y="525.7">0</text>
<text x="439.4" y="525.7">0</text>
<text x="456.0" y="525.7">10</text>
<text x="472.6" y="525.7">0</text>
<text x="489.3" y="525.7">4</text>
<text x="505.9" y="525.7">1</text>
<text x="522.5" y="525.7">1</text>
<text x="539.2" y="525.7">1</text>
<text x="555.8" y="525.7">0</text>
<text x="572.4" y="525.7">0</text>
<text x="589.1" y="525.7">0</text>
</g>
<g font-size="8.8" fill="#231f20" stroke-width="0.28">
<text x="359.0" y="310.3" text-anchor="end">UNC</text>
<text x="372.8" y="295.8" text-anchor="middle">UNC</text>
<text x="359.0" y="326.8" text-anchor="end">SMH</text>
<text x="392.3" y="312.4" text-anchor="middle">SMH</text>
<text x="359.0" y="343.4" text-anchor="end">SMM</text>
<text x="408.9" y="328.9" text-anchor="middle">SMM</text>
<text x="359.0" y="360.0" text-anchor="end">CON</text>
<text x="425.5" y="345.5" text-anchor="middle">CON</text>
<text x="359.0" y="376.6" text-anchor="end">AUD</text>
<text x="442.2" y="362.1" text-anchor="middle">AUD</text>
<text x="359.0" y="393.1" text-anchor="end">DMN</text>
<text x="458.8" y="378.7" text-anchor="middle">DMN</text>
<text x="359.0" y="409.7" text-anchor="end">MRN</text>
<text x="475.4" y="395.2" text-anchor="middle">MRN</text>
<text x="359.0" y="426.3" text-anchor="end">VIS</text>
<text x="492.1" y="411.8" text-anchor="middle">VIS</text>
<text x="359.0" y="442.9" text-anchor="end">FPN</text>
<text x="508.7" y="428.4" text-anchor="middle">FPN</text>
<text x="359.0" y="459.4" text-anchor="end">SN</text>
<text x="525.3" y="445.0" text-anchor="middle">SN</text>
<text x="359.0" y="476.0" text-anchor="end">SUB</text>
<text x="542.0" y="461.5" text-anchor="middle">SUB</text>
<text x="359.0" y="492.6" text-anchor="end">VAN</text>
<text x="558.6" y="478.1" text-anchor="middle">VAN</text>
<text x="359.0" y="509.2" text-anchor="end">CN</text>
<text x="575.2" y="494.7" text-anchor="middle">CN</text>
<text x="359.0" y="525.7" text-anchor="end">DAN</text>
<text x="591.9" y="511.3" text-anchor="middle">DAN</text>
</g>
<text x="497" y="556" text-anchor="middle" font-size="13" fill="#231f20">(D)</text>
<rect x="374.10" y="603.34" width="16.63" height="16.54" fill="#b0b7c6"/>
<rect x="374.10" y="636.41" width="16.63" height="16.54" fill="#f2f2f6"/>
<rect x="390.73" y="636.41" width="16.63" height="16.54" fill="#f2f2f6"/>
<rect x="407.36" y="636.41" width="16.63" height="16.54" fill="#f2f2f6"/>
<rect x="423.99" y="636.41" width="16.63" height="16.54" fill="#d1d6e3"/>
<rect x="390.73" y="652.94" width="16.63" height="16.54" fill="#e5e5f2"/>
<rect x="407.36" y="652.94" width="16.63" height="16.54" fill="#b4bccc"/>
<rect x="440.61" y="652.94" width="16.63" height="16.54" fill="#f2f2f6"/>
<rect x="374.10" y="669.48" width="16.63" height="16.54" fill="#7a7a90"/>
<rect x="390.73" y="669.48" width="16.63" height="16.54" fill="#5a70a4"/>
<rect x="423.99" y="669.48" width="16.63" height="16.54" fill="#e5e5f2"/>
<rect x="440.61" y="669.48" width="16.63" height="16.54" fill="#f2f2f6"/>
<rect x="457.24" y="669.48" width="16.63" height="16.54" fill="#4f659c"/>
<rect x="374.10" y="702.55" width="16.63" height="16.54" fill="#7a7a90"/>
<rect x="390.73" y="702.55" width="16.63" height="16.54" fill="#46609a"/>
<rect x="423.99" y="702.55" width="16.63" height="16.54" fill="#f2f2f6"/>
<rect x="440.61" y="702.55" width="16.63" height="16.54" fill="#c1c6d5"/>
<rect x="457.24" y="702.55" width="16.63" height="16.54" fill="#1d3765"/>
<rect x="473.87" y="702.55" width="16.63" height="16.54" fill="#f2f2f6"/>
<rect x="390.73" y="719.09" width="16.63" height="16.54" fill="#b4bccc"/>
<rect x="423.99" y="719.09" width="16.63" height="16.54" fill="#e5e5f2"/>
<rect x="457.24" y="719.09" width="16.63" height="16.54" fill="#8896ba"/>
<rect x="473.87" y="719.09" width="16.63" height="16.54" fill="#f2f2f6"/>
<rect x="490.50" y="719.09" width="16.63" height="16.54" fill="#f2f2f6"/>
<rect x="507.13" y="719.09" width="16.63" height="16.54" fill="#f2f2f6"/>
<rect x="374.10" y="735.62" width="16.63" height="16.54" fill="#d1d6e3"/>
<rect x="423.99" y="735.62" width="16.63" height="16.54" fill="#f2f2f6"/>
<rect x="457.24" y="735.62" width="16.63" height="16.54" fill="#7a7a90"/>
<rect x="473.87" y="735.62" width="16.63" height="16.54" fill="#f2f2f6"/>
<rect x="507.13" y="735.62" width="16.63" height="16.54" fill="#f2f2f6"/>
<rect x="423.99" y="752.16" width="16.63" height="16.54" fill="#e5e5f2"/>
<rect x="457.24" y="752.16" width="16.63" height="16.54" fill="#f2f2f6"/>
<rect x="507.13" y="752.16" width="16.63" height="16.54" fill="#e5e5f2"/>
<rect x="374.10" y="768.69" width="16.63" height="16.54" fill="#f2f2f6"/>
<rect x="390.73" y="768.69" width="16.63" height="16.54" fill="#4a649c"/>
<rect x="407.36" y="768.69" width="16.63" height="16.54" fill="#f2f2f6"/>
<rect x="423.99" y="768.69" width="16.63" height="16.54" fill="#b0b7c6"/>
<rect x="440.61" y="768.69" width="16.63" height="16.54" fill="#c1c6d5"/>
<rect x="457.24" y="768.69" width="16.63" height="16.54" fill="#d1d6e3"/>
<rect x="490.50" y="768.69" width="16.63" height="16.54" fill="#b4bccc"/>
<rect x="523.76" y="768.69" width="16.63" height="16.54" fill="#d1d6e3"/>
<rect x="457.24" y="785.23" width="16.63" height="16.54" fill="#e5e5f2"/>
<rect x="507.13" y="785.23" width="16.63" height="16.54" fill="#f2f2f6"/>
<rect x="374.10" y="801.76" width="16.63" height="16.54" fill="#f2f2f6"/>
<rect x="390.73" y="801.76" width="16.63" height="16.54" fill="#b4bccc"/>
<rect x="440.61" y="801.76" width="16.63" height="16.54" fill="#e5e5f2"/>
<rect x="457.24" y="801.76" width="16.63" height="16.54" fill="#e5e5f2"/>
<rect x="507.13" y="801.76" width="16.63" height="16.54" fill="#8f9ab6"/>
<rect x="523.76" y="801.76" width="16.63" height="16.54" fill="#d1d6e3"/>
<rect x="590.27" y="801.76" width="16.63" height="16.54" fill="#f2f2f6"/>
<rect x="374.10" y="586.80" width="16.63" height="16.54" fill="none" stroke="#2e2e2e" stroke-width="0.8"/>
<rect x="390.73" y="603.34" width="16.63" height="16.54" fill="none" stroke="#2e2e2e" stroke-width="0.8"/>
<rect x="407.36" y="619.87" width="16.63" height="16.54" fill="none" stroke="#2e2e2e" stroke-width="0.8"/>
<rect x="423.99" y="636.41" width="16.63" height="16.54" fill="none" stroke="#2e2e2e" stroke-width="0.8"/>
<rect x="440.61" y="652.94" width="16.63" height="16.54" fill="none" stroke="#2e2e2e" stroke-width="0.8"/>
<rect x="457.24" y="669.48" width="16.63" height="16.54" fill="none" stroke="#2e2e2e" stroke-width="0.8"/>
<rect x="473.87" y="686.01" width="16.63" height="16.54" fill="none" stroke="#2e2e2e" stroke-width="0.8"/>
<rect x="490.50" y="702.55" width="16.63" height="16.54" fill="none" stroke="#2e2e2e" stroke-width="0.8"/>
<rect x="507.13" y="719.09" width="16.63" height="16.54" fill="none" stroke="#2e2e2e" stroke-width="0.8"/>
<rect x="523.76" y="735.62" width="16.63" height="16.54" fill="none" stroke="#2e2e2e" stroke-width="0.8"/>
<rect x="540.39" y="752.16" width="16.63" height="16.54" fill="none" stroke="#2e2e2e" stroke-width="0.8"/>
<rect x="557.01" y="768.69" width="16.63" height="16.54" fill="none" stroke="#2e2e2e" stroke-width="0.8"/>
<rect x="573.64" y="785.23" width="16.63" height="16.54" fill="none" stroke="#2e2e2e" stroke-width="0.8"/>
<rect x="590.27" y="801.76" width="16.63" height="16.54" fill="none" stroke="#2e2e2e" stroke-width="0.8"/>
<g font-size="8.6" text-anchor="middle" fill="#231f20" stroke-width="0.3">
<text x="382.4" y="598.0">0</text>
<text x="382.4" y="614.5">6</text>
<text x="399.0" y="614.5">0</text>
<text x="382.4" y="631.1">0</text>
<text x="399.0" y="631.1">0</text>
<text x="415.7" y="631.1">0</text>
<text x="382.4" y="647.7">1</text>
<text x="399.0" y="647.7">1</text>
<text x="415.7" y="647.7">1</text>
<text x="432.3" y="647.7">3</text>
<text x="382.4" y="664.3">0</text>
<text x="399.0" y="664.3">2</text>
<text x="415.7" y="664.3">5</text>
<text x="432.3" y="664.3">0</text>
<text x="448.9" y="664.3">1</text>
<text x="382.4" y="680.9">9</text>
<text x="399.0" y="680.9">16</text>
<text x="415.7" y="680.9">0</text>
<text x="432.3" y="680.9">2</text>
<text x="448.9" y="680.9">1</text>
<text x="465.6" y="680.9">19</text>
<text x="382.4" y="697.5">0</text>
<text x="399.0" y="697.5">0</text>
<text x="415.7" y="697.5">0</text>
<text x="432.3" y="697.5">0</text>
<text x="448.9" y="697.5">0</text>
<text x="465.6" y="697.5">0</text>
<text x="482.2" y="697.5">0</text>
<text x="382.4" y="714.0">9</text>
<text x="399.0" y="714.0">24</text>
<text x="415.7" y="714.0">0</text>
<text x="432.3" y="714.0">1</text>
<text x="448.9" y="714.0">4</text>
<text x="465.6" y="714.0" fill="#fff" stroke="#fff">40</text>
<text x="482.2" y="714.0">1</text>
<text x="498.8" y="714.0">0</text>
<text x="382.4" y="730.6">0</text>
<text x="399.0" y="730.6">5</text>
<text x="415.7" y="730.6">0</text>
<text x="432.3" y="730.6">2</text>
<text x="448.9" y="730.6">0</text>
<text x="465.6" y="730.6">8</text>
<text x="482.2" y="730.6">1</text>
<text x="498.8" y="730.6">1</text>
<text x="515.4" y="730.6">1</text>
<text x="382.4" y="747.2">3</text>
<text x="399.0" y="747.2">0</text>
<text x="415.7" y="747.2">0</text>
<text x="432.3" y="747.2">1</text>
<text x="448.9" y="747.2">0</text>
<text x="465.6" y="747.2">9</text>
<text x="482.2" y="747.2">1</text>
<text x="498.8" y="747.2">0</text>
<text x="515.4" y="747.2">1</text>
<text x="532.1" y="747.2">0</text>
<text x="382.4" y="763.8">0</text>
<text x="399.0" y="763.8">0</text>
<text x="415.7" y="763.8">0</text>
<text x="432.3" y="763.8">2</text>
<text x="448.9" y="763.8">0</text>
<text x="465.6" y="763.8">1</text>
<text x="482.2" y="763.8">0</text>
<text x="498.8" y="763.8">0</text>
<text x="515.4" y="763.8">2</text>
<text x="532.1" y="763.8">0</text>
<text x="548.7" y="763.8">0</text>
<text x="382.4" y="780.4">1</text>
<text x="399.0" y="780.4">23</text>
<text x="415.7" y="780.4">1</text>
<text x="432.3" y="780.4">6</text>
<text x="448.9" y="780.4">4</text>
<text x="465.6" y="780.4">3</text>
<text x="482.2" y="780.4">0</text>
<text x="498.8" y="780.4">5</text>
<text x="515.4" y="780.4">0</text>
<text x="532.1" y="780.4">3</text>
<text x="548.7" y="780.4">0</text>
<text x="565.3" y="780.4">0</text>
<text x="382.4" y="797.0">0</text>
<text x="399.0" y="797.0">0</text>
<text x="415.7" y="797.0">0</text>
<text x="432.3" y="797.0">0</text>
<text x="448.9" y="797.0">0</text>
<text x="465.6" y="797.0">2</text>
<text x="482.2" y="797.0">0</text>
<text x="498.8" y="797.0">0</text>
<text x="515.4" y="797.0">1</text>
<text x="532.1" y="797.0">0</text>
<text x="548.7" y="797.0">0</text>
<text x="565.3" y="797.0">0</text>
<text x="582.0" y="797.0">0</text>
<text x="382.4" y="813.5">1</text>
<text x="399.0" y="813.5">5</text>
<text x="415.7" y="813.5">0</text>
<text x="432.3" y="813.5">0</text>
<text x="448.9" y="813.5">2</text>
<text x="465.6" y="813.5">2</text>
<text x="482.2" y="813.5">0</text>
<text x="498.8" y="813.5">0</text>
<text x="515.4" y="813.5">7</text>
<text x="532.1" y="813.5">3</text>
<text x="548.7" y="813.5">0</text>
<text x="565.3" y="813.5">0</text>
<text x="582.0" y="813.5">0</text>
<text x="598.6" y="813.5">1</text>
</g>
<g font-size="8.8" fill="#231f20" stroke-width="0.28">
<text x="368.6" y="598.0" text-anchor="end">UNC</text>
<text x="382.4" y="583.5" text-anchor="middle">UNC</text>
<text x="368.6" y="614.5" text-anchor="end">SMH</text>
<text x="401.8" y="600.1" text-anchor="middle">SMH</text>
<text x="368.6" y="631.1" text-anchor="end">SMM</text>
<text x="418.5" y="616.7" text-anchor="middle">SMM</text>
<text x="368.6" y="647.7" text-anchor="end">CON</text>
<text x="435.1" y="633.2" text-anchor="middle">CON</text>
<text x="368.6" y="664.3" text-anchor="end">AUD</text>
<text x="451.7" y="649.8" text-anchor="middle">AUD</text>
<text x="368.6" y="680.9" text-anchor="end">DMN</text>
<text x="468.4" y="666.4" text-anchor="middle">DMN</text>
<text x="368.6" y="697.5" text-anchor="end">MRN</text>
<text x="485.0" y="683.0" text-anchor="middle">MRN</text>
<text x="368.6" y="714.0" text-anchor="end">VIS</text>
<text x="501.6" y="699.6" text-anchor="middle">VIS</text>
<text x="368.6" y="730.6" text-anchor="end">FPN</text>
<text x="518.2" y="716.2" text-anchor="middle">FPN</text>
<text x="368.6" y="747.2" text-anchor="end">SN</text>
<text x="534.9" y="732.7" text-anchor="middle">SN</text>
<text x="368.6" y="763.8" text-anchor="end">SUB</text>
<text x="551.5" y="749.3" text-anchor="middle">SUB</text>
<text x="368.6" y="780.4" text-anchor="end">VAN</text>
<text x="568.1" y="765.9" text-anchor="middle">VAN</text>
<text x="368.6" y="797.0" text-anchor="end">CN</text>
<text x="584.8" y="782.5" text-anchor="middle">CN</text>
<text x="368.6" y="813.5" text-anchor="end">DAN</text>
<text x="601.4" y="799.1" text-anchor="middle">DAN</text>
</g>
<text x="506" y="842" text-anchor="middle" font-size="13" fill="#231f20">(F)</text>
<defs><linearGradient id="gb" x1="0" y1="1" x2="0" y2="0">
<stop offset="0.0000" stop-color="#ffffff"/>
<stop offset="0.0400" stop-color="#f4f7f8"/>
<stop offset="0.1000" stop-color="#cfdcee"/>
<stop offset="0.1900" stop-color="#bccde6"/>
<stop offset="0.2000" stop-color="#a9bbd8"/>
<stop offset="0.2350" stop-color="#a9bbd8"/>
<stop offset="0.2400" stop-color="#8c9ec4"/>
<stop offset="0.2750" stop-color="#8c9ec4"/>
<stop offset="0.2800" stop-color="#6077aa"/>
<stop offset="0.5000" stop-color="#4c6499"/>
<stop offset="0.7500" stop-color="#36507f"/>
<stop offset="1.0000" stop-color="#203862"/>
</linearGradient></defs>
<rect x="614.9" y="12.8" width="11.80" height="232.50" fill="url(#gb)" stroke="#2a2a2a" stroke-width="0.8"/>
<g font-size="9.3" fill="#231f20">
<line x1="624.5" y1="244.4" x2="626.7" y2="244.4" stroke="#2a2a2a" stroke-width="0.7"/>
<text x="631.0" y="247.5">0</text>
<line x1="624.5" y1="217.2" x2="626.7" y2="217.2" stroke="#2a2a2a" stroke-width="0.7"/>
<text x="631.0" y="220.3">2</text>
<line x1="624.5" y1="190.0" x2="626.7" y2="190.0" stroke="#2a2a2a" stroke-width="0.7"/>
<text x="631.0" y="193.1">4</text>
<line x1="624.5" y1="162.7" x2="626.7" y2="162.7" stroke="#2a2a2a" stroke-width="0.7"/>
<text x="631.0" y="165.8">6</text>
<line x1="624.5" y1="135.5" x2="626.7" y2="135.5" stroke="#2a2a2a" stroke-width="0.7"/>
<text x="631.0" y="138.6">8</text>
<line x1="624.5" y1="108.3" x2="626.7" y2="108.3" stroke="#2a2a2a" stroke-width="0.7"/>
<text x="631.0" y="111.4">10</text>
<line x1="624.5" y1="81.1" x2="626.7" y2="81.1" stroke="#2a2a2a" stroke-width="0.7"/>
<text x="631.0" y="84.2">12</text>
<line x1="624.5" y1="53.9" x2="626.7" y2="53.9" stroke="#2a2a2a" stroke-width="0.7"/>
<text x="631.0" y="57.0">14</text>
<line x1="624.5" y1="26.6" x2="626.7" y2="26.6" stroke="#2a2a2a" stroke-width="0.7"/>
<text x="631.0" y="29.7">16</text>
</g>
<text transform="translate(656 129) rotate(-90)" text-anchor="middle" font-size="10.35" fill="#231f20" style="white-space:pre">Number of  FC between/within brain networks</text>
<defs><linearGradient id="gd" x1="0" y1="1" x2="0" y2="0">
<stop offset="0.0000" stop-color="#ffffff"/>
<stop offset="0.0500" stop-color="#f2f6f5"/>
<stop offset="0.0900" stop-color="#d5e2ee"/>
<stop offset="0.2000" stop-color="#a9bddc"/>
<stop offset="0.3000" stop-color="#8597c0"/>
<stop offset="0.4000" stop-color="#677cac"/>
<stop offset="0.5000" stop-color="#58709f"/>
<stop offset="0.7500" stop-color="#3c5588"/>
<stop offset="1.0000" stop-color="#1f3763"/>
</linearGradient></defs>
<rect x="610.8" y="297.9" width="11.30" height="233.30" fill="url(#gd)" stroke="#2a2a2a" stroke-width="0.8"/>
<g font-size="9.3" fill="#231f20">
<line x1="619.9" y1="532.0" x2="622.1" y2="532.0" stroke="#2a2a2a" stroke-width="0.7"/>
<text x="626.4" y="535.1">0</text>
<line x1="619.9" y1="512.8" x2="622.1" y2="512.8" stroke="#2a2a2a" stroke-width="0.7"/>
<text x="626.4" y="515.9">4</text>
<line x1="619.9" y1="482.9" x2="622.1" y2="482.9" stroke="#2a2a2a" stroke-width="0.7"/>
<text x="626.4" y="486.0">11</text>
<line x1="619.9" y1="451.7" x2="622.1" y2="451.7" stroke="#2a2a2a" stroke-width="0.7"/>
<text x="626.4" y="454.8">18</text>
<line x1="619.9" y1="421.0" x2="622.1" y2="421.0" stroke="#2a2a2a" stroke-width="0.7"/>
<text x="626.4" y="424.1">25</text>
<line x1="619.9" y1="390.5" x2="622.1" y2="390.5" stroke="#2a2a2a" stroke-width="0.7"/>
<text x="626.4" y="393.6">32</text>
<line x1="619.9" y1="355.3" x2="622.1" y2="355.3" stroke="#2a2a2a" stroke-width="0.7"/>
<text x="626.4" y="358.4">39</text>
<line x1="619.9" y1="328.7" x2="622.1" y2="328.7" stroke="#2a2a2a" stroke-width="0.7"/>
<text x="626.4" y="331.8">46</text>
<line x1="619.9" y1="298.5" x2="622.1" y2="298.5" stroke="#2a2a2a" stroke-width="0.7"/>
<text x="626.4" y="301.6">53</text>
</g>
<text transform="translate(652.5 414.5) rotate(-90)" text-anchor="middle" font-size="10.35" fill="#231f20" style="white-space:pre">Number of  FC between/within brain networks</text>
<defs><linearGradient id="gf" x1="0" y1="1" x2="0" y2="0">
<stop offset="0.0000" stop-color="#ffffff"/>
<stop offset="0.0500" stop-color="#f2f6f5"/>
<stop offset="0.1000" stop-color="#d5e2ee"/>
<stop offset="0.2000" stop-color="#a9bddc"/>
<stop offset="0.3000" stop-color="#8597c0"/>
<stop offset="0.4000" stop-color="#677cac"/>
<stop offset="0.5000" stop-color="#58709f"/>
<stop offset="0.7500" stop-color="#3c5588"/>
<stop offset="1.0000" stop-color="#1f3763"/>
</linearGradient></defs>
<rect x="620.3" y="585.8" width="11.30" height="233.20" fill="url(#gf)" stroke="#2a2a2a" stroke-width="0.8"/>
<g font-size="9.3" fill="#231f20">
<line x1="629.4" y1="818.0" x2="631.6" y2="818.0" stroke="#2a2a2a" stroke-width="0.7"/>
<text x="635.9" y="821.1">0</text>
<line x1="629.4" y1="789.0" x2="631.6" y2="789.0" stroke="#2a2a2a" stroke-width="0.7"/>
<text x="635.9" y="792.1">5</text>
<line x1="629.4" y1="760.0" x2="631.6" y2="760.0" stroke="#2a2a2a" stroke-width="0.7"/>
<text x="635.9" y="763.1">10</text>
<line x1="629.4" y1="731.0" x2="631.6" y2="731.0" stroke="#2a2a2a" stroke-width="0.7"/>
<text x="635.9" y="734.1">15</text>
<line x1="629.4" y1="702.0" x2="631.6" y2="702.0" stroke="#2a2a2a" stroke-width="0.7"/>
<text x="635.9" y="705.1">20</text>
<line x1="629.4" y1="673.0" x2="631.6" y2="673.0" stroke="#2a2a2a" stroke-width="0.7"/>
<text x="635.9" y="676.1">25</text>
<line x1="629.4" y1="644.0" x2="631.6" y2="644.0" stroke="#2a2a2a" stroke-width="0.7"/>
<text x="635.9" y="647.1">30</text>
<line x1="629.4" y1="615.0" x2="631.6" y2="615.0" stroke="#2a2a2a" stroke-width="0.7"/>
<text x="635.9" y="618.1">35</text>
<line x1="629.4" y1="586.0" x2="631.6" y2="586.0" stroke="#2a2a2a" stroke-width="0.7"/>
<text x="635.9" y="589.1">40</text>
</g>
<text transform="translate(661 708.8) rotate(-90)" text-anchor="middle" font-size="10.35" fill="#231f20" style="white-space:pre">Number of  FC between/within brain networks</text>
</svg></body></html>
